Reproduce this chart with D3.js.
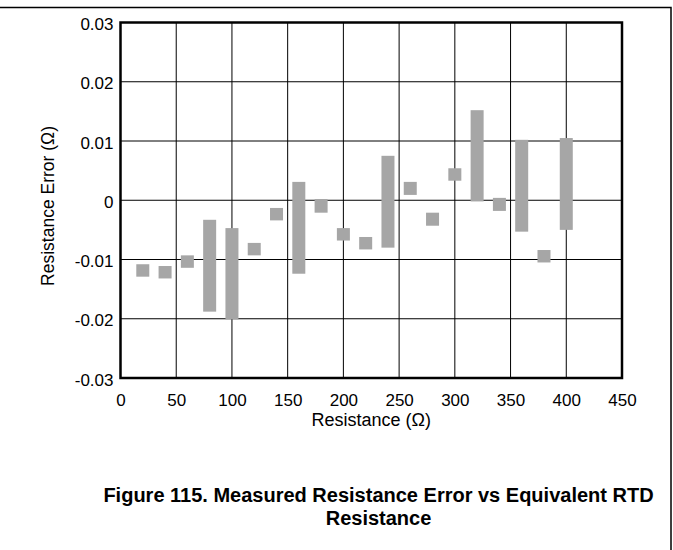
<!DOCTYPE html>
<html lang="en">
<head>
<meta charset="UTF-8">
<title>Measured Resistance Error vs Equivalent RTD Resistance</title>
<script src="https://d3js.org/d3.v7.min.js"></script>
<style>
  body { margin: 0; background: #fff; }
  svg { display: block; font-family: "Liberation Sans", Arial, sans-serif; }
</style>
</head>
<body>
<div id="chart"></div>
<script>
// resistance steps (ohm) and the min / max error measured at each one
var resistance = [20, 40, 60, 80, 100, 120, 140, 160, 180, 200, 220, 240, 260, 280, 300, 320, 340, 360, 380, 400];
var errMax = [-0.0108, -0.0111, -0.0093, -0.0033, -0.0047, -0.0072, -0.0013, 0.0031, 0.0002, -0.0047,
              -0.0062, 0.0075, 0.0031, -0.0021, 0.0054, 0.0152, 0.0004, 0.0102, -0.0084, 0.0105];
var errMin = [-0.0129, -0.0132, -0.0114, -0.0188, -0.0201, -0.0093, -0.0034, -0.0124, -0.0021, -0.0068,
              -0.0083, -0.0080, 0.0009, -0.0043, 0.0033, -0.0002, -0.0018, -0.0053, -0.0105, -0.0050];
var xTicks = [0, 50, 100, 150, 200, 250, 300, 350, 400, 450];
var yTicks = [-0.03, -0.02, -0.01, 0, 0.01, 0.02, 0.03];
var yTickLabels = ["-0.03", "-0.02", "-0.01", "0", "0.01", "0.02", "0.03"];

var W = 673, H = 550;
var margin = {top: 22.5, right: 51, bottom: 172, left: 120.5};
var width = W - margin.left - margin.right,
    height = H - margin.top - margin.bottom;

var svg = d3.select("#chart").append("svg")
  .attr("width", W)
  .attr("height", H);

// page frame (top and right edges)
svg.append("path")
  .attr("d", "M0,7.5H671V550")
  .attr("fill", "none")
  .attr("stroke", "#000")
  .attr("stroke-width", 1.5);

var g = svg.append("g")
  .attr("transform", "translate(" + margin.left + "," + margin.top + ")");

var x = d3.scaleLinear().domain([0, 450]).range([0, width]);
var y = d3.scaleLinear().domain([-0.03, 0.03]).range([height, 0]);

// grid
g.append("g").selectAll("line")
  .data(xTicks.slice(1, -1))
  .join("line")
    .attr("x1", d => x(d)).attr("x2", d => x(d))
    .attr("y1", 0).attr("y2", height)
    .attr("stroke", "#000").attr("stroke-width", 1);
g.append("g").selectAll("line")
  .data(yTicks.slice(1, -1))
  .join("line")
    .attr("y1", d => y(d)).attr("y2", d => y(d))
    .attr("x1", 0).attr("x2", width)
    .attr("stroke", "#000").attr("stroke-width", 1);

// min-max bars
var bw = 13;
g.append("g").selectAll("rect")
  .data(resistance)
  .join("rect")
    .attr("x", d => x(d) - bw / 2)
    .attr("y", (d, i) => y(errMax[i]))
    .attr("width", bw)
    .attr("height", (d, i) => y(errMin[i]) - y(errMax[i]))
    .attr("fill", "#a6a6a6");

// plot border
g.append("rect")
  .attr("width", width)
  .attr("height", height)
  .attr("fill", "none")
  .attr("stroke", "#000")
  .attr("stroke-width", 2.5);

// axes (labels only)
var xAxis = g.append("g")
  .attr("transform", "translate(0," + height + ")")
  .call(d3.axisBottom(x).tickValues(xTicks).tickSize(0).tickPadding(0).tickFormat(d3.format("d")));
xAxis.select(".domain").remove();
xAxis.selectAll("text")
  .attr("dy", null)
  .attr("y", 27.5)
  .style("font-size", "17px")
  .style("font-family", "Liberation Sans, Arial, sans-serif")
  .attr("fill", "#000");

var yAxis = g.append("g")
  .call(d3.axisLeft(y).tickValues(yTicks).tickSize(0).tickPadding(7)
    .tickFormat((d, i) => yTickLabels[i]));
yAxis.select(".domain").remove();
yAxis.selectAll("text")
  .attr("dy", "0.42em")
  .style("font-size", "17px")
  .style("font-family", "Liberation Sans, Arial, sans-serif")
  .attr("fill", "#000");

// axis titles
g.append("text")
  .attr("x", width / 2)
  .attr("y", height + 47.5)
  .attr("text-anchor", "middle")
  .style("font-size", "18px")
  .text("Resistance (\u03A9)");

svg.append("text")
  .attr("transform", "translate(54,206) rotate(-90)")
  .attr("text-anchor", "middle")
  .style("font-size", "17.5px")
  .text("Resistance Error (\u03A9)");

// caption
svg.append("text")
  .attr("x", 378.5)
  .attr("y", 502)
  .attr("text-anchor", "middle")
  .style("font-size", "20px")
  .style("font-weight", "bold")
  .text("Figure 115. Measured Resistance Error vs Equivalent RTD");
svg.append("text")
  .attr("x", 378.5)
  .attr("y", 525)
  .attr("text-anchor", "middle")
  .style("font-size", "20px")
  .style("font-weight", "bold")
  .text("Resistance");
</script>
</body>
</html>
